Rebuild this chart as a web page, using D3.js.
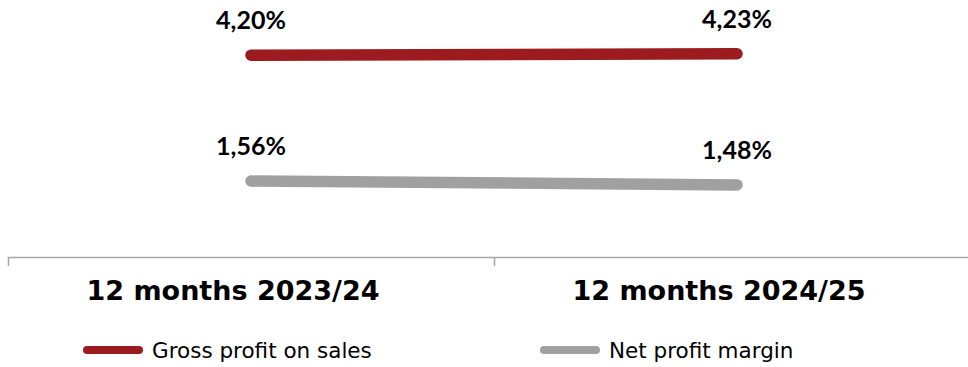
<!DOCTYPE html>
<html>
<head>
<meta charset="utf-8">
<script src="https://cdn.jsdelivr.net/npm/d3@7/dist/d3.min.js"></script>
<style>
  html, body { margin: 0; padding: 0; background: #ffffff; }
  svg { display: block; }
</style>
</head>
<body>
<svg id="chart" width="968" height="367"></svg>
<script>
// Periods on the x axis
const categories = ["12 months 2023/24", "12 months 2024/25"];
// Series values, in percent
const grossProfit = [4.20, 4.23];
const netMargin = [1.56, 1.48];
const seriesNames = ["Gross profit on sales", "Net profit margin"];
const seriesColors = ["#9b1b1f", "#a0a0a0"];

const series = [
  { name: seriesNames[0], values: grossProfit, color: seriesColors[0] },
  { name: seriesNames[1], values: netMargin, color: seriesColors[1] }
];

const svg = d3.select("#chart");

const x = d3.scaleBand().domain(categories).range([8, 980]).padding(0);
const y = d3.scaleLinear().domain([0, 5]).range([255.5, 17]);

const fmt = v => d3.format(".2f")(v).replace(".", ",") + "%";

// Category axis baseline
svg.append("path")
  .attr("d", "M8.5,266V257.5H968")
  .attr("fill", "none")
  .attr("stroke", "#a6a6a6").attr("stroke-width", 1.5);
// Boundary between the two periods
svg.append("g").selectAll("line").data(categories.slice(1)).join("line")
  .attr("x1", d => x(d) + 0.5).attr("x2", d => x(d) + 0.5)
  .attr("y1", 257.5).attr("y2", 266)
  .attr("stroke", "#a6a6a6").attr("stroke-width", 1.5);

svg.append("g").selectAll("text").data(categories).join("text")
  .attr("x", d => x(d) + x.bandwidth() / 2 - 18)
  .attr("y", 300)
  .attr("text-anchor", "middle")
  .attr("font-family", "Verdana, 'DejaVu Sans', sans-serif")
  .attr("font-weight", "bold")
  .attr("font-size", 27)
  .attr("fill", "#000")
  .text(d => d);

// Lines
const line = d3.line()
  .x((d, i) => x(categories[i]) + x.bandwidth() / 2)
  .y(d => y(d));

svg.append("g").selectAll("path").data(series).join("path")
  .attr("d", s => line(s.values))
  .attr("fill", "none")
  .attr("stroke", s => s.color)
  .attr("stroke-width", 11.5)
  .attr("stroke-linecap", "round");

// Value labels
series.forEach(s => {
  svg.append("g").selectAll("text").data(s.values).join("text")
    .attr("x", (d, i) => x(categories[i]) + x.bandwidth() / 2)
    .attr("y", d => y(d) - 26)
    .attr("text-anchor", "middle")
    .attr("font-family", "Lato, 'Open Sans', sans-serif")
    .attr("font-weight", "bold")
    .attr("font-size", 25)
    .attr("fill", "#000")
    .text(d => fmt(d));
});

// Legend
const legendX = [83, 540];
const lg = svg.append("g").selectAll("g").data(series).join("g")
  .attr("transform", (d, i) => `translate(${legendX[i]},350)`);
lg.append("line")
  .attr("x1", 4).attr("x2", 56).attr("y1", 0).attr("y2", 0)
  .attr("stroke", d => d.color).attr("stroke-width", 8)
  .attr("stroke-linecap", "round");
lg.append("text")
  .attr("x", 69).attr("y", 8)
  .attr("font-family", "Verdana, 'DejaVu Sans', sans-serif")
  .attr("font-size", 21.5)
  .attr("fill", "#000")
  .text(d => d.name);
</script>
</body>
</html>
